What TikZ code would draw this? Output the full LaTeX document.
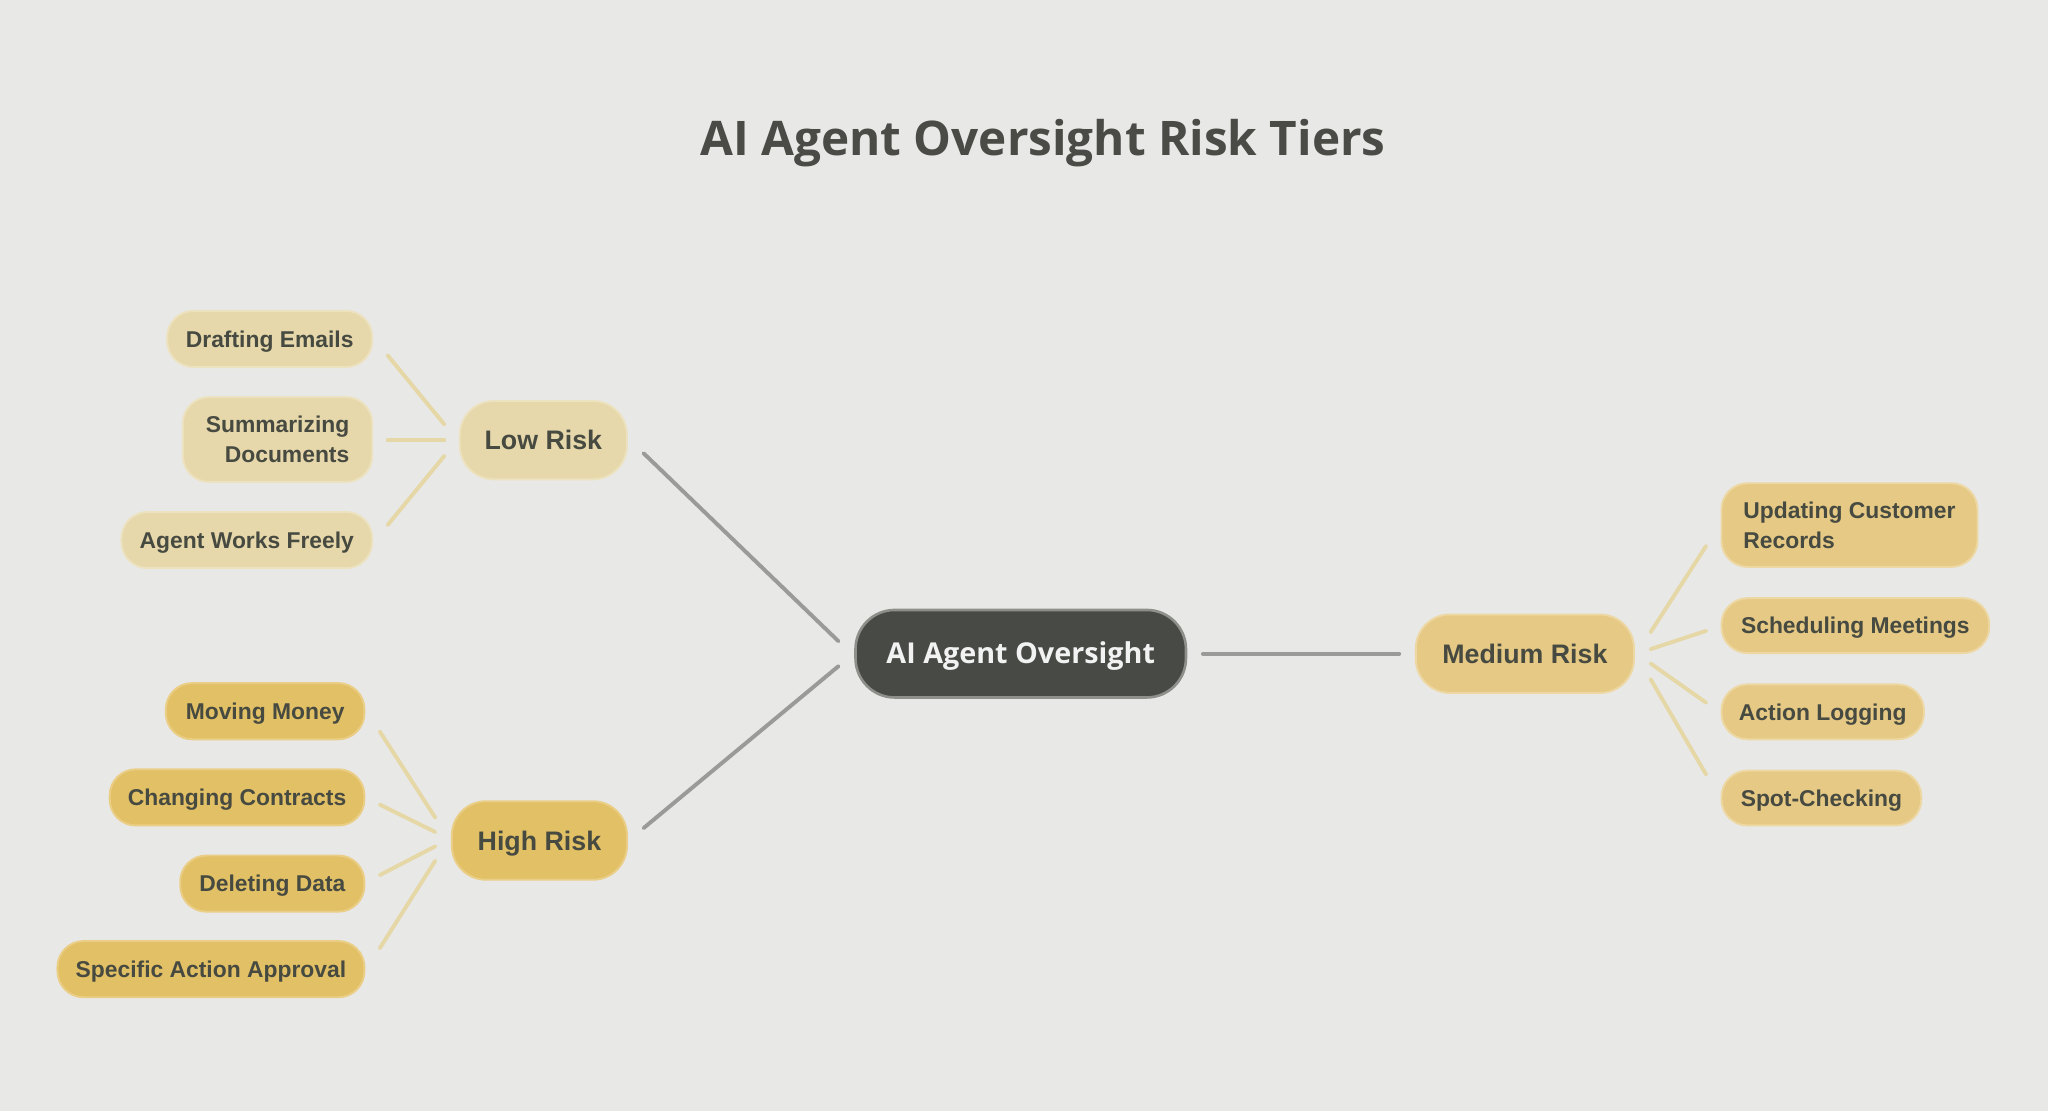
\documentclass[tikz,border=0pt]{standalone}
\usepackage{fontspec}
\setmainfont{Liberation Sans}
\newfontfamily\notofont{Open Sans}
\definecolor{bg}{HTML}{E8E8E6}
\definecolor{txt}{HTML}{474A40}
\definecolor{ttl}{HTML}{4A4B46}
\definecolor{lowfill}{HTML}{E6D8AB}
\definecolor{lowedge}{HTML}{EDE2C0}
\definecolor{highfill}{HTML}{E2C066}
\definecolor{highedge}{HTML}{EACE86}
\definecolor{medfill}{HTML}{E5C985}
\definecolor{mededge}{HTML}{EDD7A2}
\definecolor{cfill}{HTML}{484A45}
\definecolor{cedge}{HTML}{8E8E8A}
\definecolor{mainline}{HTML}{9A9A98}
\definecolor{subline}{HTML}{E6D7A6}
\begin{document}
\begin{tikzpicture}[x=1pt,y=-1pt,
  leaf/.style={rounded corners=20pt, line width=1.5pt, inner sep=0pt, minimum height=43pt,
    text height=12.6pt, text depth=0pt,
    font=\fontsize{17.5}{23}\selectfont\bfseries, text=txt},
  twoline/.style={text height=35.6pt, text depth=0pt},
  lowleaf/.style={leaf, fill=lowfill, draw=lowedge},
  highleaf/.style={leaf, fill=highfill, draw=highedge},
  medleaf/.style={leaf, fill=medfill, draw=mededge},
  tier/.style={rounded corners=26pt, line width=1.5pt, inner sep=0pt, minimum height=60pt,
    text height=14.7pt, text depth=0pt,
    font=\fontsize{20.5}{25}\selectfont\bfseries, text=txt},
  center/.style={rounded corners=30pt, line width=2pt, inner sep=0pt, minimum height=67pt,
    minimum width=253pt, fill=cfill, draw=cedge, text=white!95!black,
    text height=15.7pt, text depth=0pt,
    font=\notofont\fontsize{22}{26}\selectfont\bfseries},
  mainconn/.style={draw=mainline, line width=3pt, line cap=round},
  subconn/.style={draw=subline, line width=3pt, line cap=round}
]
\fill[bg] (0,0) rectangle (1568,850.6);
\useasboundingbox (0,0) rectangle (1568,850.6);

\node[text=ttl, inner sep=0pt, text height=26pt, text depth=0pt,
  font=\notofont\fontsize{36.5}{42}\selectfont\bfseries] (title) at (798.5,106) {AI Agent Oversight Risk Tiers};

\node[center] (c) at (781.5,500.5) {AI Agent Oversight};

\node[tier, fill=lowfill, draw=lowedge, minimum width=128pt] (low) at (416,337) {Low Risk};
\node[tier, fill=highfill, draw=highedge, minimum width=134pt] (high) at (413,643.5) {High Risk};
\node[tier, fill=medfill, draw=mededge, minimum width=167pt] (med) at (1167.5,500.5) {Medium Risk};

% low leaves
\node[lowleaf, minimum width=157pt] (de) at (206.5,259.5) {Drafting Emails};
\node[lowleaf, twoline, minimum width=145pt, minimum height=65pt, align=right] (sd) at (212.5,336.5) {Summarizing\\Documents};
\node[lowleaf, minimum width=192pt] (aw) at (189,413.5) {Agent Works Freely};

% high leaves
\node[highleaf, minimum width=152pt] (mm) at (203,544.5) {Moving Money};
\node[highleaf, minimum width=195pt] (cc) at (181.5,610.5) {Changing Contracts};
\node[highleaf, minimum width=141pt] (dd) at (208.5,676.5) {Deleting Data};
\node[highleaf, minimum width=235pt] (sa) at (161.5,742) {Specific Action Approval};

% medium leaves
\node[medleaf, twoline, minimum width=196pt, minimum height=64pt, align=left] (uc) at (1416,402) {Updating Customer\\Records};
\node[medleaf, minimum width=205pt, minimum height=42pt] (sm) at (1420.5,479) {Scheduling Meetings};
\node[medleaf, minimum width=155pt, minimum height=42pt] (al) at (1395.5,545) {Action Logging};
\node[medleaf, minimum width=153pt, minimum height=42pt] (sc) at (1394.5,611) {Spot-Checking};

% main connectors
\draw[mainconn] ([shift={(-12,-9.5)}]c.west) -- ([shift={(12,10)}]low.east);
\draw[mainconn] ([shift={(-12,9.5)}]c.west) -- ([shift={(12,-9.5)}]high.east);
\draw[mainconn] ([shift={(12,0)}]c.east) -- ([shift={(-12,0)}]med.west);

% low sub connectors
\draw[subconn] ([shift={(-11,-12)}]low.west) -- ([shift={(11,12.5)}]de.east);
\draw[subconn] ([shift={(-11,0)}]low.west) -- ([shift={(11,0.5)}]sd.east);
\draw[subconn] ([shift={(-11,12)}]low.west) -- ([shift={(11,-11.5)}]aw.east);

% high sub connectors
\draw[subconn] ([shift={(-12,-17.5)}]high.west) -- ([shift={(11,15.5)}]mm.east);
\draw[subconn] ([shift={(-12,-6.5)}]high.west) -- ([shift={(11,5.5)}]cc.east);
\draw[subconn] ([shift={(-12,4.5)}]high.west) -- ([shift={(11,-6.5)}]dd.east);
\draw[subconn] ([shift={(-12,15.5)}]high.west) -- ([shift={(11,-16)}]sa.east);

% medium sub connectors
\draw[subconn] ([shift={(12,-16.5)}]med.east) -- ([shift={(-11,16)}]uc.west);
\draw[subconn] ([shift={(12,-3.5)}]med.east) -- ([shift={(-11,4)}]sm.west);
\draw[subconn] ([shift={(12,7.5)}]med.east) -- ([shift={(-11,-7)}]al.west);
\draw[subconn] ([shift={(12,19.5)}]med.east) -- ([shift={(-11,-18)}]sc.west);
\end{tikzpicture}
\end{document}
